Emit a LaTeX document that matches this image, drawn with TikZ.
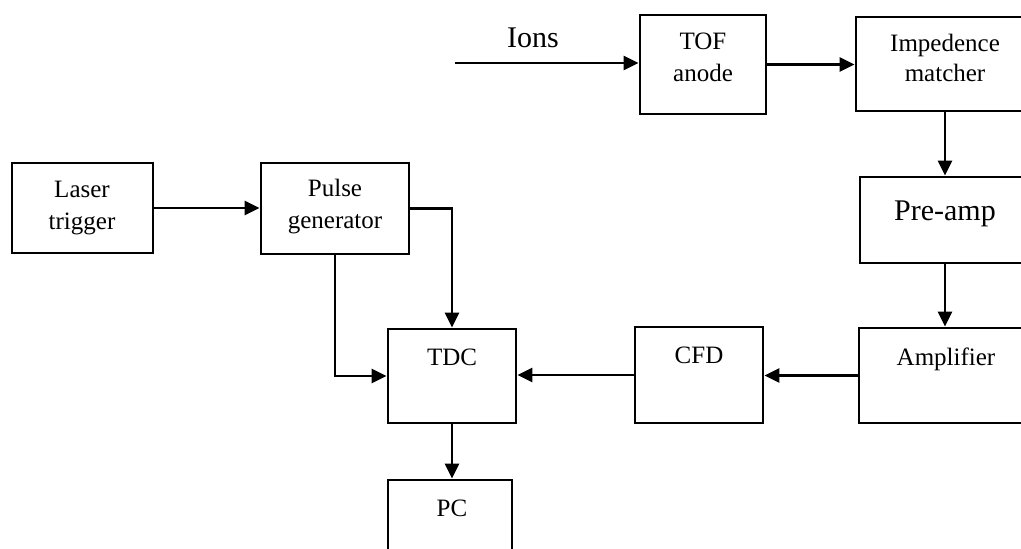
\documentclass[tikz,border=0pt]{standalone}
\usepackage{fontspec}
\setmainfont{Liberation Serif}
\usetikzlibrary{arrows.meta}
\begin{document}
\begin{tikzpicture}[x=1pt,y=-1pt,
  box/.style={draw, line width=2.8pt, inner sep=0pt},
  lbl/.style={font=\fontsize{25}{32}\selectfont, align=center, inner sep=0pt, anchor=base},
  big/.style={font=\fontsize{30}{34}\selectfont, inner sep=0pt, anchor=base},
  conn/.style={line width=2.6pt, -{Triangle[length=15pt,width=14pt]}}]
\useasboundingbox (0,0) rectangle (1021,549);
\clip (0,0) rectangle (1021,549);
% boxes
\node[box, minimum width=126, minimum height=99] (tof) at (703,64.5) {};
\node[box, minimum width=178, minimum height=94] (imp) at (945,64) {};
\node[box, minimum width=170, minimum height=86] (pre) at (945,220) {};
\node[box, minimum width=174, minimum height=95] (amp) at (946,375.5) {};
\node[box, minimum width=128, minimum height=96] (cfd) at (699,375) {};
\node[box, minimum width=128, minimum height=94] (tdc) at (452,376) {};
\node[box, minimum width=124, minimum height=94] (pc) at (450,527) {};
\node[box, minimum width=141, minimum height=90] (laser) at (82.5,208) {};
\node[box, minimum width=148, minimum height=91] (pulse) at (335,208.5) {};
% texts (base anchor = baseline of the last line)
\node[big] (ionst) at (533,47) {Ions};
\node[lbl] (toft) at (703,81) {TOF\\anode};
\node[lbl, font=\fontsize{25}{30}\selectfont] (impt) at (945,81) {Impedence\\matcher};
\node[big] (pret) at (945,220) {Pre-amp};
\node[lbl] (ampt) at (946,365) {Amplifier};
\node[lbl] (cfdt) at (699,363) {CFD};
\node[lbl] (tdct) at (452,365) {TDC};
\node[lbl] (pct) at (452,516) {PC};
\node[lbl] (lasert) at (82,229) {Laser\\trigger};
\node[lbl] (pulset) at (335,228) {Pulse\\generator};
% connectors
\coordinate (ionsfrom) at (455,63);
\draw[conn] (ionsfrom) -- (ionsfrom -| tof.west);
\draw[conn] (tof.east) -- (tof.east -| imp.west);
\draw[conn] (imp.south) -- (pre.north);
\draw[conn] (pre.south) -- (pre.south |- amp.north);
\draw[conn] (amp.west) -- (amp.west -| cfd.east);
\draw[conn] (cfd.west) -- (cfd.west -| tdc.east);
\draw[conn] (laser.east) -- (laser.east -| pulse.west);
\draw[conn] (pulse.east) -| (tdc.north);
\draw[conn] (pulse.south) |- (tdc.west);
\draw[conn] (tdc.south) -- (tdc.south |- pc.north);
\end{tikzpicture}
\end{document}
